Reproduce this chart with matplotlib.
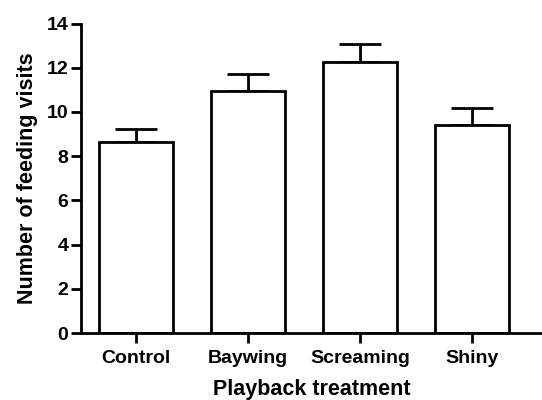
import matplotlib.pyplot as plt
import numpy as np

categories = ["Control", "Baywing", "Screaming", "Shiny"]
means = [8.65, 10.93, 12.25, 9.40]
sems = [0.60, 0.79, 0.83, 0.78]

plt.rcParams["font.family"] = ["Liberation Sans", "DejaVu Sans"]
plt.rcParams["font.weight"] = "bold"

fig = plt.figure(figsize=(5.42, 4.0), dpi=100)
ax = fig.add_axes([0.1494, 0.1675, 1.0 - 0.1494, 0.941 - 0.1675])

x = np.arange(len(categories))
ax.bar(x, means, width=0.66, color="white", edgecolor="black", linewidth=2, zorder=2)
# error bars drawn upward only, like the original
ax.errorbar(x, means, yerr=[np.zeros(len(sems)), sems], fmt="none",
            ecolor="black", elinewidth=2, capsize=15, capthick=2, zorder=1)

ax.set_ylim(0, 14)
ax.set_xlim(-0.49, 3.625)
ax.set_yticks(np.arange(0, 15, 2))
ax.set_xticks(x)
ax.set_xticklabels(categories)

for side in ["top", "right"]:
    ax.spines[side].set_visible(False)
for side in ["left", "bottom"]:
    ax.spines[side].set_linewidth(2)

ax.tick_params(axis="both", width=2, length=7, labelsize=14, pad=2)
ax.tick_params(axis="x", pad=5)
ax.set_xlabel("Playback treatment", fontsize=15.5, fontweight="bold", labelpad=9)
ax.set_ylabel("Number of feeding visits", fontsize=15.5, fontweight="bold", labelpad=6)

fig.savefig("out.png", dpi=100)
